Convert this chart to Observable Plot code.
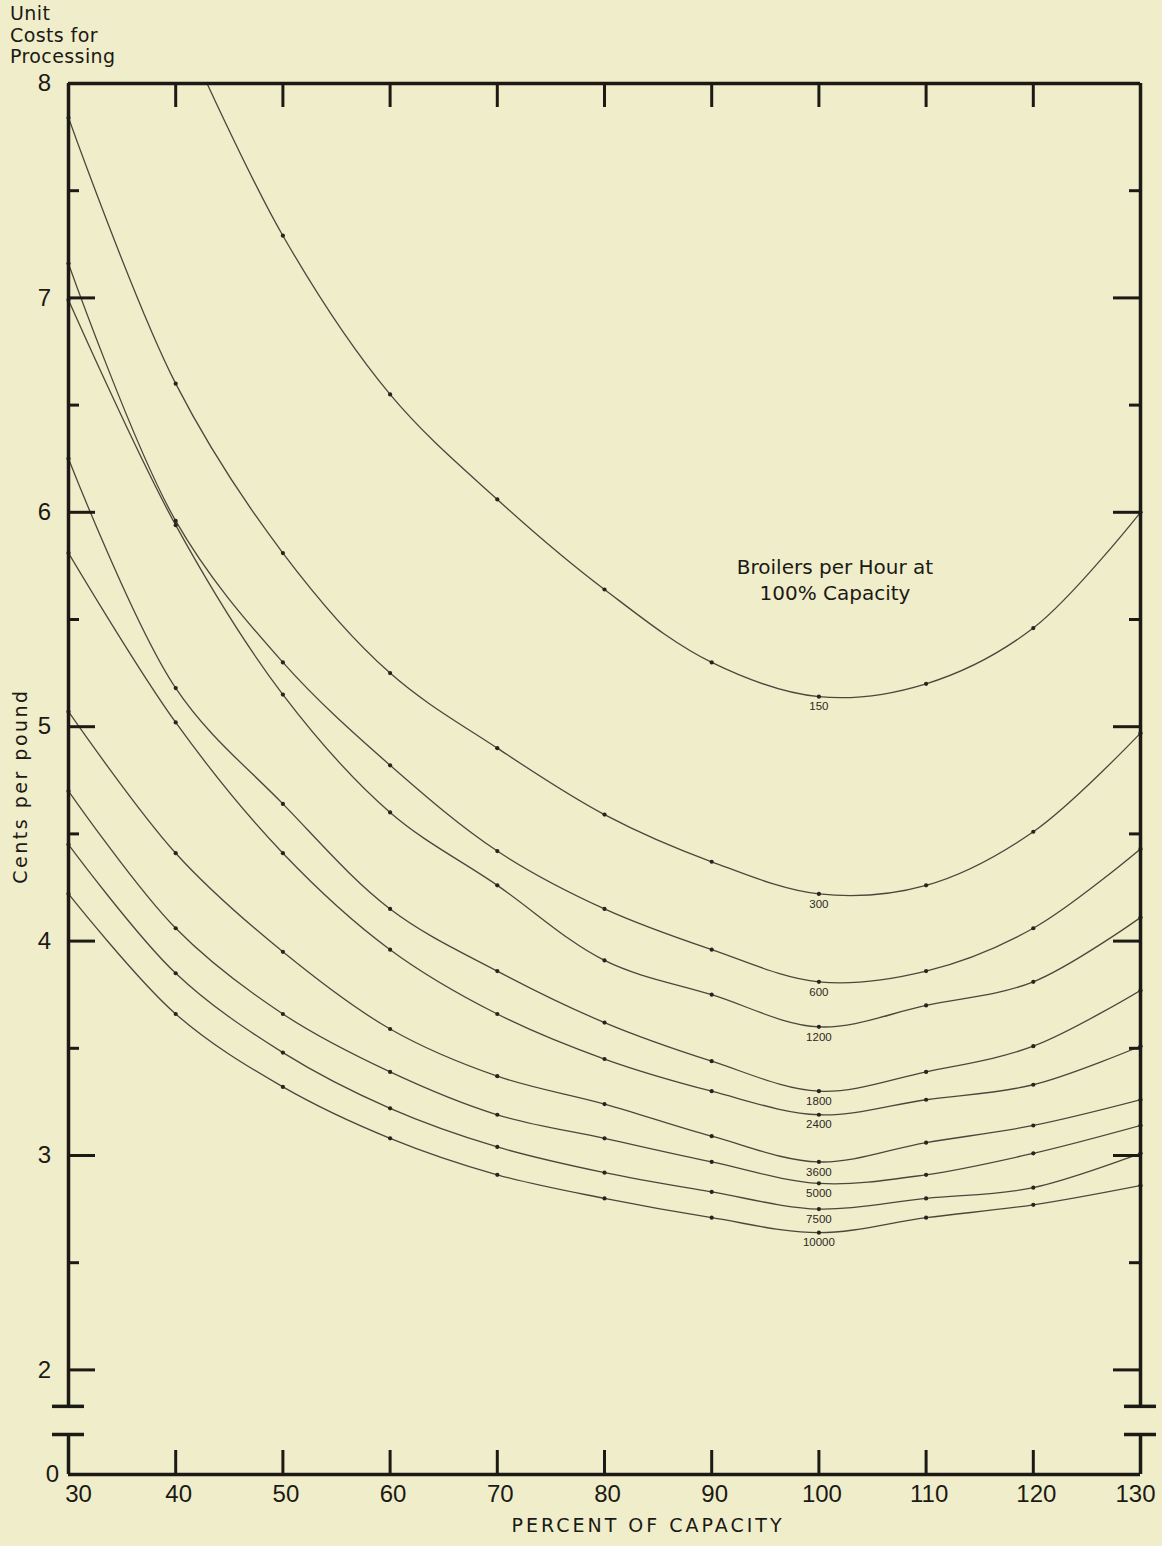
<!DOCTYPE html>
<html>
<head>
<meta charset="utf-8">
<script src="https://cdn.jsdelivr.net/npm/d3@7"></script>
<script src="https://cdn.jsdelivr.net/npm/@observablehq/plot@0.6"></script>
<style>
  html, body { margin: 0; padding: 0; background: #f0edcb; }
  #wrap { position: relative; width: 1162px; height: 1546px; background: #f0edcb;
          font-family: "DejaVu Sans", "Liberation Sans", Arial, sans-serif; color: #1b1a14; overflow: hidden; }
  #wrap svg { position: absolute; left: 0; top: 0; }
  .title { position: absolute; left: 10px; top: 3px; font-size: 19px; line-height: 21.5px; letter-spacing: 0.4px; }
  .ytitle { position: absolute; left: 20px; top: 786px; font-size: 19px; letter-spacing: 2.5px; white-space: nowrap;
            transform: translate(-50%, -50%) rotate(-90deg); }
  .xtitle { position: absolute; left: 648px; top: 1525px; font-size: 19px; letter-spacing: 3px;
            white-space: nowrap; transform: translate(-50%, -50%); }
</style>
</head>
<body>
<div id="wrap">
  <div class="title">Unit<br>Costs for<br>Processing</div>
  <div class="ytitle">Cents per pound</div>
  <div class="xtitle">PERCENT OF CAPACITY</div>
</div>
<script>
// ---- data (cents per pound) ----
const percent = [30, 40, 50, 60, 70, 80, 90, 100, 110, 120, 130];
const broilers = ["150", "300", "600", "1200", "1800", "2400", "3600", "5000", "7500", "10000"];
const cost150   = [null, 8.32, 7.29, 6.55, 6.06, 5.64, 5.30, 5.14, 5.20, 5.46, 6.00];
const cost300   = [7.84, 6.60, 5.81, 5.25, 4.90, 4.59, 4.37, 4.22, 4.26, 4.51, 4.97];
const cost600   = [7.16, 5.96, 5.30, 4.82, 4.42, 4.15, 3.96, 3.81, 3.86, 4.06, 4.43];
const cost1200  = [6.99, 5.94, 5.15, 4.60, 4.26, 3.91, 3.75, 3.60, 3.70, 3.81, 4.11];
const cost1800  = [6.25, 5.18, 4.64, 4.15, 3.86, 3.62, 3.44, 3.30, 3.39, 3.51, 3.77];
const cost2400  = [5.81, 5.02, 4.41, 3.96, 3.66, 3.45, 3.30, 3.19, 3.26, 3.33, 3.51];
const cost3600  = [5.07, 4.41, 3.95, 3.59, 3.37, 3.24, 3.09, 2.97, 3.06, 3.14, 3.26];
const cost5000  = [4.70, 4.06, 3.66, 3.39, 3.19, 3.08, 2.97, 2.87, 2.91, 3.01, 3.14];
const cost7500  = [4.45, 3.85, 3.48, 3.22, 3.04, 2.92, 2.83, 2.75, 2.80, 2.85, 3.01];
const cost10000 = [4.22, 3.66, 3.32, 3.08, 2.91, 2.80, 2.71, 2.64, 2.71, 2.77, 2.86];

const xTickValues = [40, 50, 60, 70, 80, 90, 100, 110, 120];
const xFirstTick = [30];
const xLastTick = [130];
const xInnerTicks = [40, 50, 60, 70, 80, 90, 100, 110, 120];
const yTickLabels = [2, 3, 4, 5, 6, 7, 8];
const yZeroLabel = [0];
const yMajorTicks = [2, 3, 4, 5, 6, 7];
const yMinorTicks = [2.5, 3.5, 4.5, 5.5, 6.5, 7.5];
const axisBreak = [1.83, 0.19];   // broken y axis between these values
const legendTitle = ["Broilers per Hour at", "100% Capacity"];
const labelAt = 100;

// ---- build table ----
const costs = [cost150, cost300, cost600, cost1200, cost1800, cost2400, cost3600, cost5000, cost7500, cost10000];
const rows = broilers.flatMap((b, i) => percent.map((p, j) => ({broilers: b, percent: p, cost: costs[i][j]})))
  .filter(d => d.cost != null);
const dots = rows.filter(d => d.cost <= 8);
const labels = rows.filter(d => d.percent === labelAt);

// ---- geometry helpers (pixel lengths expressed in scale units) ----
const W = 1162, H = 1546;
const mL = 68, mR = 22, mT = 83, mB = 72;
const yTopPx = mT, yZeroPx = H - mB;
const pxPerX = (W - mL - mR) / 100;
const pxPerY = 214.4;
const ink = "#1b1a14";
const curveInk = "#4a483c";
const numFont = "'Liberation Sans', Arial, sans-serif";
const textFont = "'DejaVu Sans', 'Liberation Sans', sans-serif";

const majorLen = 27 / pxPerX, minorLen = 11 / pxPerX, breakHalf = 16 / pxPerX;
const topTickLen = 24 / pxPerY;
const tickFont = 24;

const chart = Plot.plot({
  width: W, height: H,
  marginTop: mT, marginRight: mR, marginBottom: mB, marginLeft: mL,
  style: {background: "transparent", fontFamily: numFont, color: ink, overflow: "visible"},
  x: {type: "linear", domain: [30, 130], axis: null},
  y: {type: "linear",
      domain: [0, axisBreak[1], axisBreak[0], 8],
      range: [yZeroPx, yZeroPx - 40, yTopPx + (8 - axisBreak[0]) * pxPerY, yTopPx],
      axis: null},
  marks: [
    // curves
    Plot.line(rows, {x: "percent", y: "cost", z: "broilers", curve: "catmull-rom",
                     stroke: curveInk, strokeWidth: 1.3, clip: true}),
    Plot.dot(dots, {x: "percent", y: "cost", r: 2.1, fill: "#26241c", stroke: null}),
    Plot.text(labels, {x: "percent", y: "cost", text: "broilers", dy: 10, fontSize: 11.5,
                       fontFamily: numFont, fill: "#2b2a22", lineAnchor: "middle"}),
    // legend title
    Plot.text([legendTitle.join("\n")], {x: 101.5, y: 5.69, text: d => d, fontSize: 20,
                       fontFamily: textFont, lineHeight: 1.3, fill: ink}),
    // frame
    Plot.ruleY([8], {x1: 30, x2: 130, stroke: ink, strokeWidth: 3.5}),
    Plot.ruleY([0], {x1: 30, x2: 130, stroke: ink, strokeWidth: 3.5}),
    Plot.ruleX([30, 130], {y1: axisBreak[0], y2: 8, stroke: ink, strokeWidth: 3.5}),
    Plot.ruleX([30, 130], {y1: 0, y2: axisBreak[1], stroke: ink, strokeWidth: 3.5}),
    // axis-break bars
    Plot.ruleY(axisBreak, {x1: 30 - breakHalf, x2: 30 + breakHalf, stroke: ink, strokeWidth: 3.5}),
    Plot.ruleY(axisBreak, {x1: 130 - breakHalf, x2: 130 + breakHalf, stroke: ink, strokeWidth: 3.5}),
    // inward ticks
    Plot.ruleX(xInnerTicks, {x: d => d, y1: 8, y2: 8 - topTickLen, stroke: ink, strokeWidth: 3}),
    Plot.ruleX(xInnerTicks, {x: d => d, y1: 0, y2: 0.114, stroke: ink, strokeWidth: 3}),
    Plot.ruleY(yMajorTicks, {y: d => d, x1: 30, x2: 30 + majorLen, stroke: ink, strokeWidth: 3}),
    Plot.ruleY(yMinorTicks, {y: d => d, x1: 30, x2: 30 + minorLen, stroke: ink, strokeWidth: 3}),
    Plot.ruleY(yMajorTicks, {y: d => d, x1: 130 - majorLen, x2: 130, stroke: ink, strokeWidth: 3}),
    Plot.ruleY(yMinorTicks, {y: d => d, x1: 130 - minorLen, x2: 130, stroke: ink, strokeWidth: 3}),
    // tick labels
    Plot.text(yTickLabels, {x: 30, y: d => d, text: d => String(d), dx: -24, fontSize: tickFont,
                            textAnchor: "middle", lineAnchor: "middle", fill: ink}),
    Plot.text(yZeroLabel, {x: 30, y: d => d, text: d => String(d), dx: -16, fontSize: tickFont,
                            textAnchor: "middle", lineAnchor: "middle", fill: ink}),
    Plot.text(xTickValues, {x: d => d, y: 0, text: d => String(d), dx: 3, dy: 20,
                            fontSize: tickFont, textAnchor: "middle", lineAnchor: "middle", fill: ink}),
    Plot.text(xFirstTick, {x: d => d, y: 0, text: d => String(d), dx: 10, dy: 20,
                            fontSize: tickFont, textAnchor: "middle", lineAnchor: "middle", fill: ink}),
    Plot.text(xLastTick, {x: d => d, y: 0, text: d => String(d), dx: -5, dy: 20,
                            fontSize: tickFont, textAnchor: "middle", lineAnchor: "middle", fill: ink})
  ]
});
document.getElementById("wrap").prepend(chart);
</script>
</body>
</html>
